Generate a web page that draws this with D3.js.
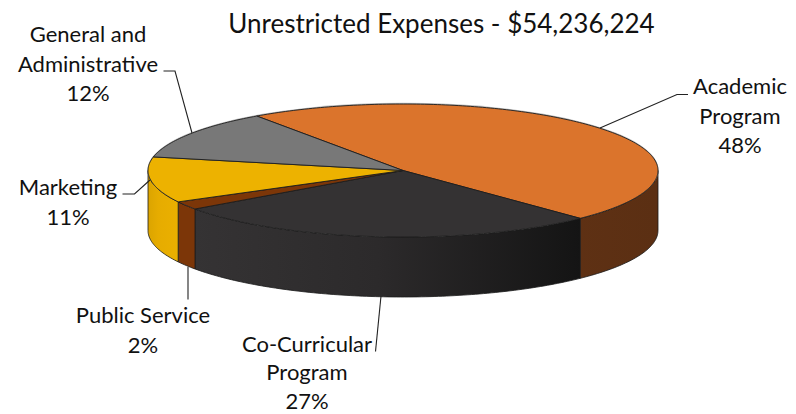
<!DOCTYPE html>
<html><head><meta charset="utf-8">
<script src="https://cdnjs.cloudflare.com/ajax/libs/d3/7.8.5/d3.min.js"></script>
<style>html,body{margin:0;padding:0;background:#fff}svg{display:block}text{font-family:Lato,Carlito,sans-serif;fill:#111}</style>
</head><body><svg id="c" width="796" height="414"></svg>
<script>
const titleText = "Unrestricted Expenses - $54,236,224";
const categories = ["Academic Program","Co-Curricular Program","Public Service","Marketing","General and Administrative"];
const values = [47.5,27.4,2.0,11.1,12.0];
const topColors = ["#db742c","#343233","#7c3608","#edb200","#787878"];
const labelLines = [["Academic","Program"],["Co-Curricular","Program"],["Public Service"],["Marketing"],["General and","Administrative"]];
const startDeg = -35;

const svg = d3.select("#c");
const cx=403, cy=170.5, rx=255, ry=66.5, depth=60;
const x = d3.scaleLinear().domain([-1,1]).range([cx-rx,cx+rx]);
const y = d3.scaleLinear().domain([-1,1]).range([cy-ry,cy+ry]);
const start = startDeg*Math.PI/180;
const pie = d3.pie().sort(null).startAngle(start).endAngle(start+2*Math.PI);
const arcs = pie(values);

const defs = svg.append("defs");
function grad(id,stops){
  const g=defs.append("linearGradient").attr("id",id).attr("gradientUnits","userSpaceOnUse")
    .attr("x1",cx-rx).attr("x2",cx+rx).attr("y1",0).attr("y2",0);
  stops.forEach(s=>g.append("stop").attr("offset",s[0]).attr("stop-color",s[1]));
}
grad("gDark",[[0.09,"#353334"],[0.45,"#2c2a2b"],[0.85,"#141414"]]);
grad("gYellow",[[0,"#dba400"],[0.02,"#e6ac00"],[0.07,"#ecb100"]]);
grad("gOrange",[[0.8,"#5f3114"],[1,"#5b2f13"]]);
grad("gBrown",[[0,"#7c3608"],[1,"#7c3608"]]);
const wallFill=["url(#gOrange)","url(#gDark)","url(#gBrown)","url(#gYellow)","#555"];

const px=a=>x(Math.sin(a)), py=a=>y(-Math.cos(a));
const lineGen=d3.line();
function arcPts(a0,a1){const n=Math.max(2,Math.ceil((a1-a0)*60));return d3.range(n+1).map(i=>a0+(a1-a0)*i/n);}

// walls: only the front half of the rim is visible
const walls = svg.append("g");
arcs.forEach((d,i)=>{
  const a0=Math.max(d.startAngle,Math.PI/2), a1=Math.min(d.endAngle,3*Math.PI/2);
  if(a1<=a0) return;
  const t=arcPts(a0,a1);
  const pts=t.map(a=>[px(a),py(a)]).concat(t.slice().reverse().map(a=>[px(a),py(a)+depth]));
  walls.append("path").attr("d",lineGen(pts)+"Z").attr("fill",wallFill[i])
    .attr("stroke","#1a1a1a").attr("stroke-width",0.8).attr("stroke-linejoin","round");
});

// soft rim on the back edge
svg.append("ellipse").attr("cx",cx).attr("cy",cy-0.6).attr("rx",rx+0.5).attr("ry",ry+0.6).attr("fill","#bbb");

// top faces
const tops=svg.append("g").attr("stroke","#1d1d1d").attr("stroke-width",0.9).attr("stroke-linejoin","round");
arcs.forEach((d,i)=>{
  const p=arcPts(d.startAngle,d.endAngle).map(a=>[px(a),py(a)]);
  tops.append("path").attr("d",lineGen([[cx,cy],...p])+"Z").attr("fill",topColors[i]);
});

// leader lines
const leaders=[
  [[600,128],[677,94.5],[688,94.5]],
  [[381,296],[375.5,351.5]],
  [[188,267],[188,299.5]],
  [[150,180],[134.5,194],[122.5,194]],
  [[192,133],[175,71],[163.5,71]]
];
svg.append("g").attr("fill","none").attr("stroke","#222").attr("stroke-width",1.1)
  .selectAll("path").data(leaders).join("path").attr("d",d=>lineGen(d));

// labels
const anchor=[[740,94],[307,351.5],[143,323],[68,195],[88,42]];
const lineHeights=[29.5,28.6,29.5,29.5,29.5];
const lab=svg.append("g").attr("text-anchor","middle").style("font-size","22px");
categories.forEach((c,i)=>{
  const lines=labelLines[i].concat([Math.round(values[i])+"%"]);
  lines.forEach((t,j)=>lab.append("text").attr("x",anchor[i][0]).attr("y",anchor[i][1]+j*lineHeights[i]).text(t));
});
svg.append("text").attr("x",441.5).attr("y",33).attr("text-anchor","middle").style("font-size","26px").text(titleText);
</script></body></html>
